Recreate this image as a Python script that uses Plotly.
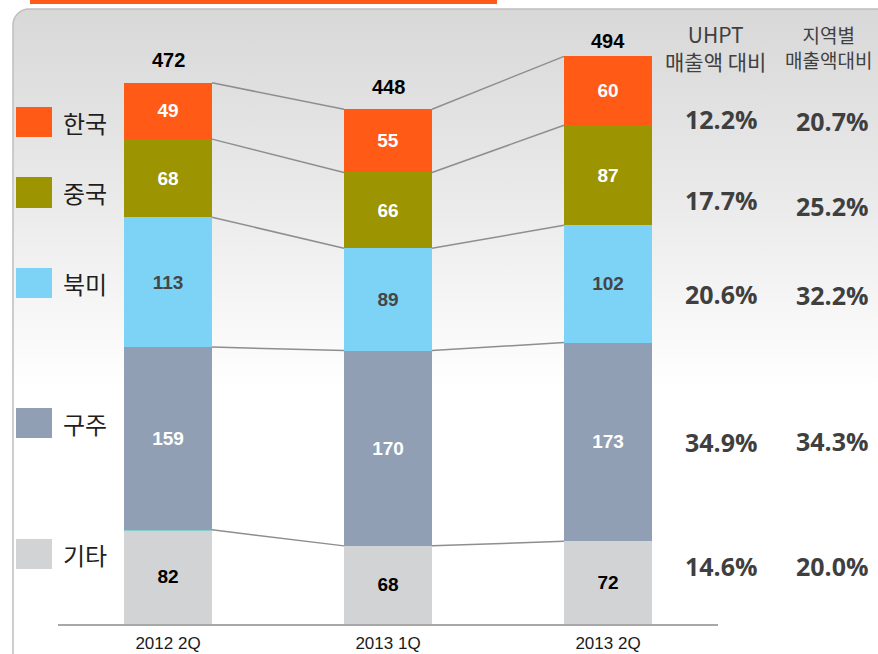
import base64
import numpy as np
import plotly.graph_objects as go

# ---------------- data ----------------
periods = ["2012 2Q", "2013 1Q", "2013 2Q"]
regions = ["기타", "구주", "북미", "중국", "한국"]          # bottom -> top
values = {
    "기타": [82, 68, 72],
    "구주": [159, 170, 173],
    "북미": [113, 89, 102],
    "중국": [68, 66, 87],
    "한국": [49, 55, 60],
}
totals = [472, 448, 494]
uhpt_share = {"한국": "12.2%", "중국": "17.7%", "북미": "20.6%", "구주": "34.9%", "기타": "14.6%"}
region_share = {"한국": "20.7%", "중국": "25.2%", "북미": "32.2%", "구주": "34.3%", "기타": "20.0%"}
header_uhpt = ["UHPT", "매출액 대비"]
header_region = ["지역별", "매출액대비"]

# ---------------- styles ----------------
colors = {"한국": "#FF5A16", "중국": "#9C9400", "북미": "#7DD3F6", "구주": "#919FB4", "기타": "#D1D3D5"}
text_colors = {"한국": "white", "중국": "white", "북미": "#454545", "구주": "white", "기타": "black"}
total_shift = [9, 9, 2]
W, H = 878, 654

def px(x):
    return x / W

def py(y):
    return 1 - y / H

fig = go.Figure()
xs = np.arange(len(periods))

for r in regions:
    fig.add_trace(go.Bar(
        x=xs, y=values[r], name=r, width=0.4,
        marker=dict(color=colors[r], line=dict(width=0)),
        text=values[r], textposition="inside", insidetextanchor="middle",
        textfont=dict(family="Liberation Sans, Arial", size=19, color=text_colors[r], weight="bold"),
        showlegend=False, hoverinfo="skip",
    ))

# connecting lines at each cumulative boundary
cum = np.zeros(len(periods))
for r in regions:
    cum = cum + np.array(values[r])
    lx, ly = [], []
    for i in range(len(periods) - 1):
        lx += [xs[i] + 0.2, xs[i + 1] - 0.2, None]
        ly += [cum[i], cum[i + 1], None]
    fig.add_trace(go.Scatter(x=lx, y=ly, mode="lines", line=dict(color="#8E8E8E", width=1.5),
                             showlegend=False, hoverinfo="skip"))

# totals
for i, t in enumerate(totals):
    fig.add_annotation(x=xs[i], y=t, text=str(t), showarrow=False, yanchor="bottom", yshift=total_shift[i],
                       font=dict(family="Liberation Sans, Arial", size=20, color="black", weight="bold"))

# small teal line at first bar
fig.add_shape(type="line", xref="x", yref="y", x0=-0.2, x1=0.2, y0=values["기타"][0], y1=values["기타"][0],
              line=dict(color="#3EC6C8", width=1.5))

# legend (left)
legend_y = {"한국": (107, 137), "중국": (177, 208), "북미": (268, 298), "구주": (408, 438), "기타": (539, 569)}
for r in regions:
    y0, y1 = legend_y[r]
    fig.add_shape(type="rect", xref="paper", yref="paper", x0=px(16), x1=px(52), y0=py(y1), y1=py(y0),
                  fillcolor=colors[r], line=dict(width=0))
    fig.add_annotation(xref="paper", yref="paper", x=px(61), y=py((y0 + y1) / 2), text=r, showarrow=False,
                       xanchor="left", yanchor="middle",
                       font=dict(family="Noto Sans CJK KR", size=24, color="#1E1E1E"))

# right-side columns (two-line headers)
fig.add_annotation(xref="paper", yref="paper", x=px(715), y=py(47), text="<br>".join(header_uhpt),
                   showarrow=False, xanchor="center", yanchor="middle", align="center", borderpad=0,
                   font=dict(family="Noto Sans CJK KR", size=21, color="#404040"))
fig.add_annotation(xref="paper", yref="paper", x=px(828), y=py(47), text="<br>".join(header_region),
                   showarrow=False, xanchor="center", yanchor="middle", align="center", borderpad=0,
                   font=dict(family="Noto Sans CJK KR", size=19, color="#404040"))

pct_y1 = {"한국": 119, "중국": 200, "북미": 294, "구주": 442, "기타": 566}
pct_y2 = {"한국": 121, "중국": 206, "북미": 295, "구주": 441, "기타": 566}
pct_font = dict(family="Open Sans", size=25, color="#3F3F3F", weight="bold")
for r in regions:
    fig.add_annotation(xref="paper", yref="paper", x=px(721), y=py(pct_y1[r]), text=uhpt_share[r],
                       showarrow=False, xanchor="center", yanchor="middle", font=pct_font)
    fig.add_annotation(xref="paper", yref="paper", x=px(832), y=py(pct_y2[r]), text=region_share[r],
                       showarrow=False, xanchor="center", yanchor="middle", font=pct_font)

# background panel (rounded, gradient) as svg image
svg = f'''<svg xmlns="http://www.w3.org/2000/svg" width="{W}" height="{H}" viewBox="0 0 {W} {H}">
<defs><linearGradient id="g" gradientUnits="userSpaceOnUse" x1="0" y1="8" x2="0" y2="390">
<stop offset="0" stop-color="#D8D8D8"/><stop offset="0.5" stop-color="#EAEAEA"/><stop offset="1" stop-color="#FFFFFF"/></linearGradient></defs>
<rect x="13" y="9" width="{W + 40}" height="{H + 40}" rx="16" ry="16" fill="url(#g)" stroke="#BEBEBE" stroke-width="1.5"/>
</svg>'''
src = "data:image/svg+xml;base64," + base64.b64encode(svg.encode()).decode()
fig.add_layout_image(source=src, xref="paper", yref="paper", x=0, y=1, sizex=1, sizey=1,
                     xanchor="left", yanchor="top", sizing="stretch", layer="below")

# orange strip at top
fig.add_shape(type="rect", xref="paper", yref="paper", x0=px(30), x1=px(497), y0=py(4), y1=py(0),
              fillcolor="#FF5A16", line=dict(width=0))

fig.update_layout(
    width=W, height=H, margin=dict(l=0, r=0, t=0, b=0, autoexpand=False),
    paper_bgcolor="white", plot_bgcolor="rgba(0,0,0,0)",
    barmode="stack", showlegend=False,
    xaxis=dict(domain=[px(58), px(718)], range=[-0.5, 2.5], tickvals=list(xs), ticktext=periods,
               showline=True, linecolor="#A8A8A8", linewidth=2, showgrid=False, zeroline=False,
               ticks="", ticklabelstandoff=3, automargin=False,
               tickfont=dict(family="Liberation Sans, Arial", size=17, color="#1A1A1A")),
    yaxis=dict(domain=[1 - 624 / H, 1 - 20 / H], range=[0, (624 - 20) / 1.149], visible=False,
               showgrid=False, zeroline=False, automargin=False),
)

fig.write_html("out.html", config={"displayModeBar": False},
               post_script="document.body.style.margin='0px';document.body.style.padding='0px';")
